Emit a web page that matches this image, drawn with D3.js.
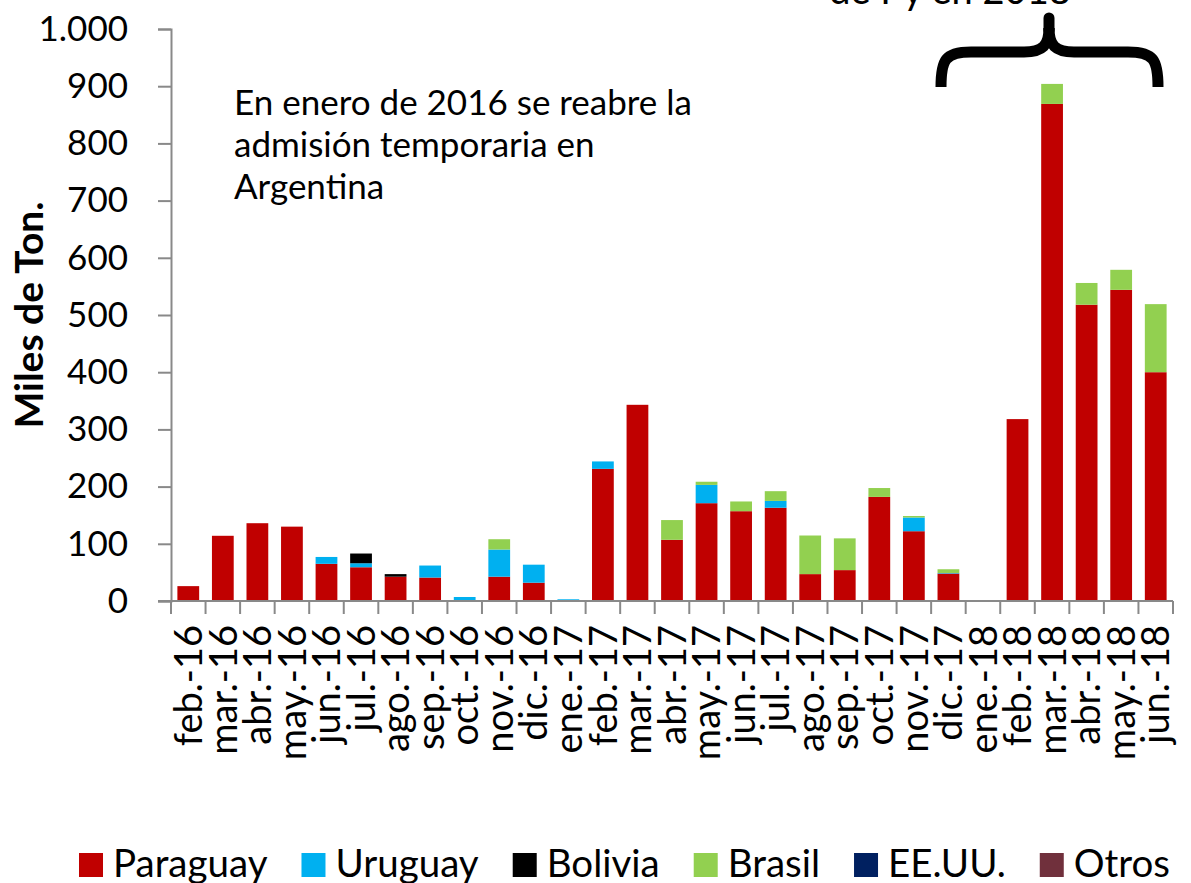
<!DOCTYPE html>
<html>
<head>
<meta charset="utf-8">
<script src="https://cdn.jsdelivr.net/npm/d3@7"></script>
<style>
  html, body { margin: 0; padding: 0; background: #fff; }
  svg { display: block; font-family: Lato, Carlito, Calibri, "Noto Sans", sans-serif; }
</style>
</head>
<body>
<svg id="chart" width="1191" height="883"></svg>
<script>
const categories = ["feb.-16","mar.-16","abr.-16","may.-16","jun.-16","jul.-16","ago.-16","sep.-16","oct.-16","nov.-16","dic.-16",
  "ene.-17","feb.-17","mar.-17","abr.-17","may.-17","jun.-17","jul.-17","ago.-17","sep.-17","oct.-17","nov.-17","dic.-17",
  "ene.-18","feb.-18","mar.-18","abr.-18","may.-18","jun.-18"];
const paraguay = [26,114,136,130,65,59,42.5,41,0,42.5,32,0,231,343,107,171,157,163,47,54,182,122,48,0,318,869,518,544,400];
const uruguay  = [0,0,0,0,12,7,0,21,7,47.5,31.5,3,13,0,0,32,0,12,0,0,0,24,1,0,0,0,0,0,0];
const bolivia  = [0,0,0,0,0,17,4.5,0,0,0,0,0,0,0,0,0,0,0,0,0,0,0,0,0,0,0,0,0,0];
const brasil   = [0,0,0,0,0,0,0,0,0,18,0,0,0,0,34.5,5.5,17,17,67.5,55.5,15.5,2.6,6.5,0,0,35,38,35,119];
const eeuu     = new Array(29).fill(0);
const otros    = new Array(29).fill(0);
const seriesNames = ["Paraguay","Uruguay","Bolivia","Brasil","EE.UU.","Otros"];
const seriesColors = ["#C00000","#00B0F0","#000000","#92D050","#002060","#70303C"];
const yTicks = [0,100,200,300,400,500,600,700,800,900,1000];
const yTitle = "Miles de Ton.";
const noteLines = ["En enero de 2016 se reabre la","admisión temporaria en","Argentina"];
const bracketLabel = "de Py en 2018";

const seriesValues = [paraguay, uruguay, bolivia, brasil, eeuu, otros];
const table = categories.map((c, i) => {
  const row = { cat: c };
  seriesNames.forEach((s, j) => row[s] = seriesValues[j][i]);
  return row;
});

const svg = d3.select("#chart");
const x = d3.scaleBand().domain(categories).range([171, 1173]).paddingInner(0.37).paddingOuter(0.185);
const y = d3.scaleLinear().domain([0, 1000]).range([601, 29]);
const color = d3.scaleOrdinal().domain(seriesNames).range(seriesColors);
const axisColor = "#898989";

const stacked = d3.stack().keys(seriesNames)(table);

// bars
svg.append("g").selectAll("g").data(stacked).join("g")
  .attr("fill", d => color(d.key))
  .selectAll("rect").data(d => d).join("rect")
  .attr("x", d => x(d.data.cat))
  .attr("width", x.bandwidth())
  .attr("y", d => y(d[1]))
  .attr("height", d => Math.max(0, y(d[0]) - y(d[1])));

// Y axis
const fmt = d3.formatLocale({decimal: ",", thousands: ".", grouping: [3], currency: ["", ""]}).format(",");
const yAxis = svg.append("g").attr("transform", "translate(171,0)")
  .call(d3.axisLeft(y).tickValues(yTicks).tickSize(13).tickPadding(30).tickFormat(fmt));
yAxis.select(".domain").attr("stroke", axisColor).attr("stroke-width", 2);
yAxis.selectAll(".tick line").attr("stroke", axisColor).attr("stroke-width", 2);
yAxis.selectAll(".tick text").attr("font-size", 35).attr("fill", "#000")
  .attr("font-family", "Lato, Carlito, Calibri, sans-serif");

// X axis
const xAxisG = svg.append("g").attr("transform", "translate(0,601)");
xAxisG.append("line").attr("x1", 158).attr("x2", 1173).attr("y1", 0).attr("y2", 0)
  .attr("stroke", axisColor).attr("stroke-width", 2);
const step = x.step();
const bounds = d3.range(categories.length + 1).map(i => 171 + i * step);
xAxisG.selectAll("line.tk").data(bounds).join("line").attr("class", "tk")
  .attr("x1", d => d).attr("x2", d => d).attr("y1", 0).attr("y2", 13)
  .attr("stroke", axisColor).attr("stroke-width", 2);
xAxisG.selectAll("text").data(categories).join("text")
  .attr("transform", d => `translate(${x(d) + x.bandwidth() / 2},24) rotate(-90)`)
  .attr("text-anchor", "end").attr("dy", "0.36em")
  .attr("font-size", 38).attr("fill", "#000")
  .text(d => d);

// Y title
svg.append("text").attr("transform", "translate(29,315) rotate(-90)")
  .attr("text-anchor", "middle").attr("dy", "0.36em")
  .attr("font-size", 39).attr("font-weight", "bold").attr("fill", "#000")
  .text(yTitle);

// Note
svg.append("g").selectAll("text").data(noteLines).join("text")
  .attr("x", 234).attr("y", (d, i) => 115 + i * 42)
  .attr("font-size", 35).attr("fill", "#000").text(d => d);

// Bracket annotation
const bx0 = 941, bx1 = 1158, bxm = 1049;
svg.append("text").attr("x", 950).attr("y", 4).attr("text-anchor", "middle")
  .attr("font-size", 38).attr("fill", "#000").text(bracketLabel);
const br = svg.append("g").attr("fill", "none").attr("stroke", "#000").attr("stroke-width", 11);
br.append("path").attr("d",
  `M${bx0},87 C${bx0},60 ${bx0 + 4},52 ${bx0 + 30},52 L${bxm - 25},52 C${bxm - 6},52 ${bxm},45 ${bxm},28`);
br.append("path").attr("d",
  `M${bxm},28 C${bxm},45 ${bxm + 6},52 ${bxm + 25},52 L${bx1 - 30},52 C${bx1 - 4},52 ${bx1},60 ${bx1},87`);
br.append("path").attr("stroke-linecap", "round").attr("d", `M${bxm},30 L${bxm},18`);

// Legend
const leg = svg.append("g").attr("transform", "translate(79,853)");
let lx = 0;
seriesNames.forEach((s, i) => {
  const g = leg.append("g").attr("transform", `translate(${lx},0)`);
  g.append("rect").attr("width", 24).attr("height", 24).attr("fill", color(s));
  const t = g.append("text").attr("x", 34).attr("y", 24).attr("font-size", 38.5).attr("fill", "#000").text(s);
  lx += 34 + t.node().getComputedTextLength() + 34;
});
</script>
</body>
</html>
